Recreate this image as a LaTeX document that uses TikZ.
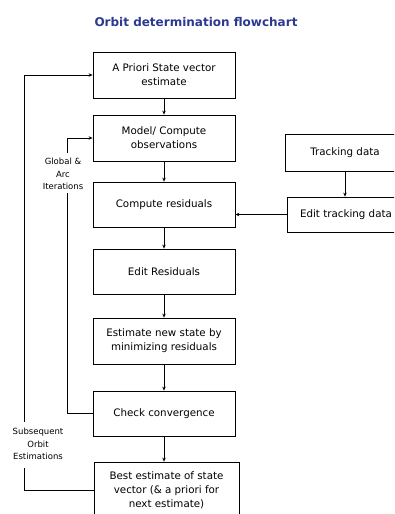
\documentclass[tikz,border=0pt]{standalone}
\usepackage{fontspec}
\setmainfont{DejaVu Sans}
\usetikzlibrary{arrows.meta}
\definecolor{titleblue}{HTML}{2B3990}
\begin{document}
\begin{tikzpicture}[x=1pt,y=-1pt,
  box/.style={draw, line width=0.8pt, minimum width=142pt, inner sep=0pt, align=center, font=\fontsize{10.3}{14}\selectfont},
  lbl/.style={align=center, font=\fontsize{8.5}{12.5}\selectfont, inner sep=0pt},
  arr/.style={-{Stealth[length=4pt,width=3.5pt]}, line width=0.7pt},
  ln/.style={line width=0.7pt}]
\useasboundingbox (0,0) rectangle (394,514);
\clip (0,0) rectangle (394,514);
\node[font=\fontsize{12}{14}\selectfont\bfseries, text=titleblue] (title) at (196,22) {Orbit determination flowchart};
\node[box, minimum height=46pt] (b1) at (164,75) {A Priori State vector\\estimate};
\node[box, minimum height=46pt] (b2) at (164,138) {Model/ Compute\\observations};
\node[box, minimum height=45pt] (b3) at (164,204.5) {Compute residuals};
\node[box, minimum height=45pt] (b4) at (164,271.5) {Edit Residuals};
\node[box, minimum height=46pt] (b5) at (164,341) {Estimate new state by\\minimizing residuals};
\node[box, minimum height=45pt] (b6) at (164,413.5) {Check convergence};
\node[box, minimum height=56pt, minimum width=145pt] (b7) at (166.5,490) {Best estimate of state\\vector (\& a priori for\\next estimate)};
\node[box, minimum height=37pt, minimum width=120pt] (td) at (345,152.5) {Tracking data};
\node[box, minimum height=35pt, minimum width=118pt] (etd) at (346,214.5) {Edit tracking data};
\node[lbl] (gl) at (63,174) {Global \&\\Arc\\Iterations};
\node[lbl] (so) at (38,444) {Subsequent\\Orbit\\Estimations};
\coordinate (g1) at (67,193);
\coordinate (g2) at (67,153);
\coordinate (o1) at (24,468);
\coordinate (o2) at (24,422);
\draw[arr] (b1) -- (b2);
\draw[arr] (b2) -- (b3);
\draw[arr] (b3) -- (b4);
\draw[arr] (b4) -- (b5);
\draw[arr] (b5) -- (b6);
\draw[arr] (b6.south) -- (b6.south |- b7.north);
\draw[arr] (td) -- (td.south |- etd.north);
\draw[arr] (etd.west) -- (etd.west -| b3.east);
\draw[ln] (b6.west) -| (g1);
\draw[arr] (g2) |- (b2.west);
\draw[ln] (b7.west) -| (o1);
\draw[arr] (o2) |- (b1.west);
\end{tikzpicture}
\end{document}
